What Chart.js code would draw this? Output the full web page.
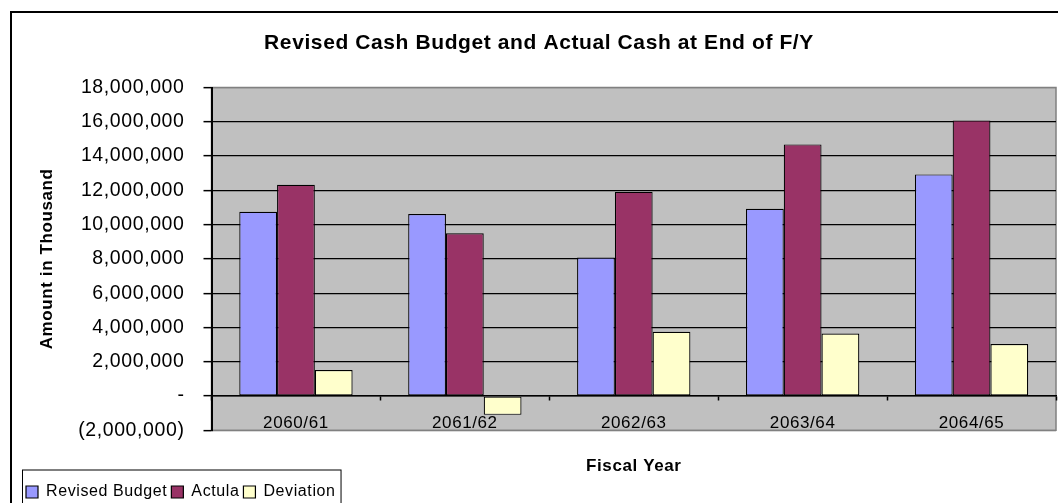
<!DOCTYPE html>
<html>
<head>
<meta charset="utf-8">
<script src="https://cdn.jsdelivr.net/npm/chart.js@4/dist/chart.umd.min.js"></script>
<style>
  html, body { margin: 0; padding: 0; background: #fff; }
  canvas { display: block; }
</style>
</head>
<body>
<canvas id="cash" width="1058" height="503"></canvas>
<script>
// fiscal years and cash figures (in thousand)
const years = ['2060/61', '2061/62', '2062/63', '2063/64', '2064/65'];
const revisedBudget = [10750000, 10620000, 8080000, 10920000, 12930000];
const actula = [12320000, 9500000, 11910000, 14680000, 16080000];
const deviation = [1520000, -1100000, 3750000, 3650000, 3030000];

const FONT = '"Liberation Sans", Arial, sans-serif';
const SPACING = '0.6px';

// excel style number format: 0 -> "-", negatives in brackets
function fmt(v) {
  if (v === 0) return '-';
  const s = Math.abs(v).toLocaleString('en-US');
  return v < 0 ? '(' + s + ')' : s;
}

// wide text spacing, plot background, frames
const frame = {
  id: 'frame',
  beforeUpdate(chart) { chart.ctx.letterSpacing = SPACING; },
  beforeLayout(chart) { chart.ctx.letterSpacing = SPACING; },
  beforeDraw(chart) {
    const ctx = chart.ctx;
    ctx.letterSpacing = SPACING;
    const a = chart.chartArea;
    ctx.save();
    ctx.fillStyle = '#C0C0C0';
    ctx.fillRect(a.left, a.top, a.right - a.left, a.bottom - a.top);
    ctx.strokeStyle = '#808080';
    ctx.lineWidth = 1.5;
    ctx.strokeRect(a.left, a.top, a.right - a.left, a.bottom - a.top);
    ctx.restore();
  },
  afterDraw(chart) {
    const ctx = chart.ctx;
    ctx.save();
    ctx.strokeStyle = '#000';
    ctx.lineWidth = 2;
    ctx.beginPath();
    ctx.moveTo(11, chart.height + 5);
    ctx.lineTo(11, 12);
    ctx.lineTo(chart.width + 5, 12);
    ctx.stroke();
    // box around legend
    const hb = chart.legend.legendHitBoxes;
    if (hb && hb.length) {
      const first = hb[0], last = hb[hb.length - 1];
      ctx.lineWidth = 1;
      ctx.strokeRect(first.left - 3.5, first.top - 14,
        last.left + last.width - first.left + 9, 60);
    }
    ctx.restore();
  }
};

new Chart(document.getElementById('cash'), {
  type: 'bar',
  data: {
    labels: years,
    datasets: [
      { label: 'Revised Budget', data: revisedBudget, backgroundColor: '#9999FF' },
      { label: 'Actula', data: actula, backgroundColor: '#993366' },
      { label: 'Deviation', data: deviation, backgroundColor: '#FFFFCC' }
    ]
  },
  options: {
    responsive: false,
    animation: false,
    layout: { padding: { left: 22, right: 2, top: 12, bottom: -7 } },
    datasets: {
      bar: {
        borderColor: '#000',
        borderWidth: 1.2,
        borderSkipped: false,
        categoryPercentage: 0.671,
        barPercentage: 1
      }
    },
    plugins: {
      title: {
        display: true,
        text: 'Revised Cash Budget and Actual Cash at End of F/Y',
        color: '#000',
        font: { family: FONT, size: 21, weight: 'bold' },
        padding: { top: 18.9, bottom: 31.4 }
      },
      legend: {
        position: 'bottom',
        align: 'start',
        labels: {
          color: '#000',
          font: { family: FONT, size: 16 },
          boxWidth: 12,
          boxHeight: 12,
          padding: 4
        }
      },
      tooltip: { enabled: false }
    },
    scales: {
      x: {
        position: { y: 0 },
        grid: {
          offset: true,
          drawOnChartArea: false,
          tickLength: 4,
          tickColor: '#000',
          tickWidth: 1.5
        },
        border: { color: '#000', width: 1.5 },
        ticks: {
          color: '#000',
          padding: 13,
          font: { family: FONT, size: 17 }
        }
      },
      xTitle: {
        type: 'category',
        position: 'bottom',
        labels: years,
        grid: { display: false, drawTicks: false },
        border: { display: false },
        ticks: { display: false },
        title: {
          display: true,
          text: 'Fiscal Year',
          color: '#000',
          font: { family: FONT, size: 17, weight: 'bold' },
          padding: { top: 25.8, bottom: 3.5 }
        }
      },
      y: {
        min: -2000000,
        max: 18000000,
        afterFit(scale) { scale.width = 189.5; },
        grid: {
          color: ctx => (ctx.tick && (ctx.tick.value === 18000000 || ctx.tick.value === -2000000)) ? '#808080' : '#000',
          lineWidth: 1.3,
          tickLength: 8,
          tickColor: '#000',
          tickWidth: 1.5
        },
        border: { color: '#000', width: 2 },
        ticks: {
          stepSize: 2000000,
          color: '#000',
          padding: 19,
          font: { family: FONT, size: 19.5 },
          callback: v => fmt(v)
        },
        title: {
          display: true,
          text: 'Amount in Thousand',
          color: '#000',
          font: { family: FONT, size: 17, weight: 'bold' },
          padding: { top: 15.3, bottom: 0 }
        }
      }
    }
  },
  plugins: [frame]
});
</script>
</body>
</html>
